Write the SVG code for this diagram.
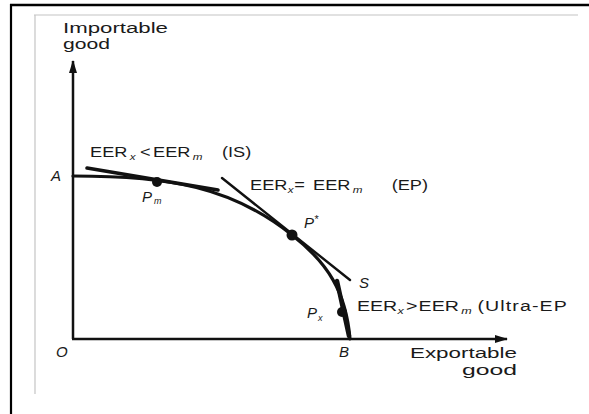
<svg xmlns="http://www.w3.org/2000/svg" width="589" height="414" viewBox="0 0 589 414">
<defs>
<marker id="arr" markerUnits="userSpaceOnUse" markerWidth="14" markerHeight="10" refX="12" refY="5" orient="auto">
<path d="M0,1 L13,5 L0,9 Z" fill="#111"/>
</marker>
<style>
.t{font-family:"Liberation Sans",Arial,sans-serif;font-size:14px;fill:#1a1a1a}
.i{font-family:"Liberation Sans",Arial,sans-serif;font-size:15px;font-style:italic;fill:#1a1a1a}
.sub{font-size:9px;font-style:italic}
.ax{stroke:#111;stroke-width:2.5;fill:none}
.frame{stroke:#000;fill:none}
.gray{stroke:#c4c4c4;stroke-width:1.2;fill:none}
.ln{stroke:#111;fill:none;stroke-linecap:round}
.dot{fill:#111}
</style>
</defs>
<rect width="589" height="414" fill="#fff"/>
<g id="frame">
<line class="frame" x1="10" y1="5" x2="589" y2="5" stroke-width="2.6"/>
<line class="frame" x1="11" y1="4" x2="11" y2="414" stroke-width="2.2"/>
<line class="gray" x1="34" y1="15" x2="578" y2="15"/>
<line class="gray" x1="35" y1="15" x2="35" y2="394"/>
</g>
<g id="axes">
<path class="ax" d="M73,339 L73,61" marker-end="url(#arr)"/>
<path class="ax" d="M72,339 L507,339" marker-end="url(#arr)"/>
</g>
<g id="curve">
<path class="ln" stroke-width="3.2" d="M73,176 C170,176 232,187 292,235 C328,263 346,292 350,339"/>
</g>
<g id="tangents">
<path class="ln" stroke-width="3.6" d="M87,168 L218,190"/>
<path class="ln" stroke-width="2.4" d="M222,178 L350,280"/>
<path class="ln" stroke-width="4.5" d="M337,281 L349,336"/>
</g>
<g id="points">
<circle class="dot" cx="157" cy="182" r="5"/>
<circle class="dot" cx="292" cy="235" r="5.5"/>
<circle class="dot" cx="342" cy="312" r="5"/>
</g>
<g id="axis-labels">
<text class="t" x="63" y="33" textLength="105" lengthAdjust="spacingAndGlyphs">Importable</text>
<text class="t" x="63" y="49" textLength="47" lengthAdjust="spacingAndGlyphs">good</text>
<text class="t" x="410" y="358" textLength="107" lengthAdjust="spacingAndGlyphs">Exportable</text>
<text class="t" x="462" y="375" textLength="55" lengthAdjust="spacingAndGlyphs">good</text>
<text class="i" x="51" y="181">A</text>
<text class="i" x="56" y="357">O</text>
<text class="i" x="339" y="357">B</text>
<text class="i" x="359" y="288">S</text>
</g>
<g id="point-labels">
<text class="i" x="142" y="202">P<tspan class="sub" dx="2" dy="2">m</tspan></text>
<text class="i" x="304" y="228">P<tspan font-size="11" dx="0" dy="-5">*</tspan></text>
<text class="i" x="307" y="318">P<tspan class="sub" dx="1" dy="3">x</tspan></text>
</g>
<g id="regime-labels">
<text class="t" transform="translate(90,157) scale(1.3,1)"><tspan x="0">EER</tspan><tspan class="sub" x="30.5" dy="3">x</tspan><tspan x="38.5" dy="-3">&lt;</tspan><tspan x="48.5">EER</tspan><tspan class="sub" x="79" dy="3">m</tspan><tspan x="101.5" dy="-3">(IS)</tspan></text>
<text class="t" transform="translate(250,190) scale(1.3,1)"><tspan x="0">EER</tspan><tspan class="sub" x="29" dy="3">x</tspan><tspan x="34" dy="-3">=</tspan><tspan x="48.5">EER</tspan><tspan class="sub" x="79" dy="3">m</tspan><tspan x="109" dy="-3">(EP)</tspan></text>
<text class="t" transform="translate(357,311) scale(1.4,1)"><tspan x="0">EER</tspan><tspan class="sub" x="29" dy="3">x</tspan><tspan x="35" dy="-3">&gt;</tspan><tspan x="44">EER</tspan><tspan class="sub" x="74.5" dy="3">m</tspan><tspan x="86" dy="-3" letter-spacing="0.8">(Ultra-EP</tspan></text>
</g>
</svg>
